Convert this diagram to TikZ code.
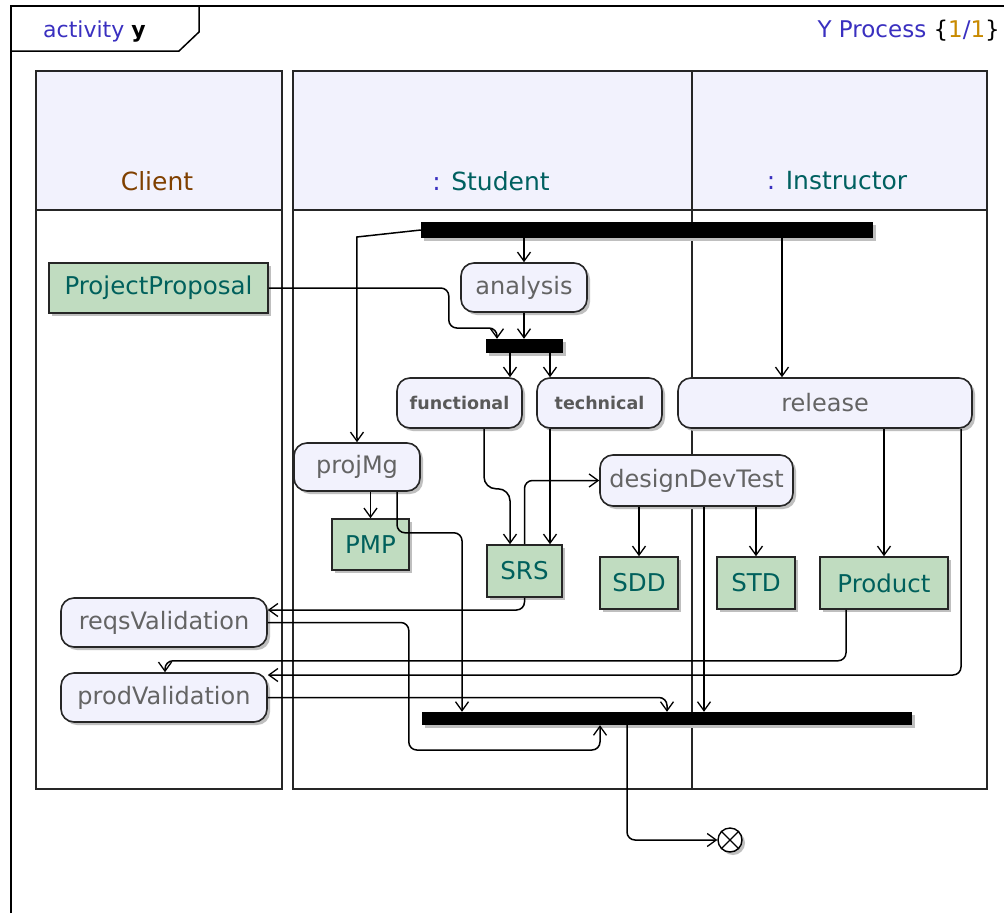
\documentclass[tikz,border=0pt]{standalone}
\usepackage{fontspec}
\setmainfont{DejaVu Sans}
\usetikzlibrary{arrows.meta,shadows,calc}

\definecolor{actfill}{HTML}{F2F2FD}
\definecolor{objfill}{HTML}{C0DCC0}
\definecolor{acttext}{HTML}{646464}
\definecolor{objtext}{HTML}{00605C}
\definecolor{titleblue}{HTML}{3A30C0}
\definecolor{clientbrown}{HTML}{804000}
\definecolor{laneteal}{HTML}{006060}
\definecolor{multgold}{HTML}{C88A00}

\begin{document}
\begin{tikzpicture}[x=1pt,y=-1pt,
  dshadow/.style={drop shadow={shadow xshift=3pt,shadow yshift=-3pt,fill=black!25,opacity=1}},
  actnode/.style={rectangle,rounded corners=13pt,draw=black!85,line width=1.6pt,fill=actfill,dshadow,
    text=acttext,font=\fontsize{24}{28}\selectfont,inner sep=0pt},
  smallact/.style={actnode,font=\bfseries\fontsize{17.5}{21}\selectfont,text=black!65},
  objnode/.style={rectangle,draw=black!85,line width=1.6pt,fill=objfill,dshadow,
    text=objtext,font=\fontsize{24.5}{28}\selectfont,inner sep=0pt},
  syncbar/.style={rectangle,fill=black,dshadow,inner sep=0pt},
  flowline/.style={draw=black,line width=1.5pt,rounded corners=8pt,
    -{Straight Barb[length=9pt,width=13pt,line width=1.3pt]}},
  laneline/.style={draw=black!85,line width=1.5pt},
  lanelabel/.style={font=\fontsize{25}{30}\selectfont,inner sep=0pt}
]
\useasboundingbox (0,0) rectangle (1004,913);
\fill[white] (0,0) rectangle (1004,913);

% diagram frame and its name tab
\draw[line width=1.5pt] (11,913) -- (11,6) -- (1004,6);
\draw[line width=1.5pt] (11,51) -- (179,51) -- (199,32) -- (199,6);
\node[anchor=base west,inner sep=0pt,font=\fontsize{22}{26}\selectfont] (frametitle) at (43,37)
  {\textcolor{titleblue}{activity} \textbf{y}};
\node[anchor=base east,inner sep=0pt,font=\fontsize{23}{26}\selectfont] (processname) at (1000,37)
  {\textcolor{titleblue}{Y Process} \{\textcolor{multgold}{1}\textcolor{titleblue}{/}\textcolor{multgold}{1}\}};

% swimlanes
\fill[actfill] (36,71) rectangle (282,210);
\fill[actfill] (293,71) rectangle (987,210);
\draw[laneline] (36,71) rectangle (282,789);
\draw[laneline] (36,210) -- (282,210);
\draw[laneline] (293,71) rectangle (987,789);
\draw[laneline] (293,210) -- (987,210);
\draw[laneline] (692,71) -- (692,789);
\node[lanelabel,text=clientbrown] (client) at (157,181) {Client};
\node[lanelabel] (student) at (491,181) {\textcolor{titleblue}{:} \textcolor{laneteal}{Student}};
\node[lanelabel] (instructor) at (837,181) {\textcolor{titleblue}{:} \textcolor{laneteal}{Instructor}};

% synchronisation bars
\node[syncbar,minimum width=452pt,minimum height=16pt] (fork1) at (647,230) {};
\node[syncbar,minimum width=77pt,minimum height=14pt] (join2) at (524.5,346) {};
\node[syncbar,minimum width=490pt,minimum height=13pt] (join3) at (667,718.5) {};

% actions
\node[actnode,minimum width=126pt,minimum height=49pt] (analysis) at (524,287.5) {analysis};
\node[smallact,minimum width=125pt,minimum height=50pt] (functional) at (459.5,403) {functional};
\node[smallact,minimum width=125pt,minimum height=50pt] (technical) at (599.5,403) {technical};
\node[actnode,minimum width=294pt,minimum height=50pt] (release) at (825,403) {release};
\node[actnode,minimum width=126pt,minimum height=48pt] (projMg) at (357,467) {projMg};
\node[actnode,minimum width=193pt,minimum height=51pt] (dDT) at (696.5,480.5) {designDevTest};
\node[actnode,minimum width=206pt,minimum height=49pt] (reqsV) at (164,622.5) {reqsValidation};
\node[actnode,minimum width=206pt,minimum height=49pt] (prodV) at (164,697.5) {prodValidation};

% object nodes
\node[objnode,minimum width=219pt,minimum height=50pt] (proposal) at (158.5,288) {ProjectProposal};
\node[objnode,minimum width=77pt,minimum height=51pt] (PMP) at (370.5,544.5) {PMP};
\node[objnode,minimum width=75pt,minimum height=52pt] (SRS) at (524.5,571) {SRS};
\node[objnode,minimum width=78pt,minimum height=52pt] (SDD) at (639,583) {SDD};
\node[objnode,minimum width=78pt,minimum height=52pt] (STD) at (756,583) {STD};
\node[objnode,minimum width=128pt,minimum height=52pt] (Product) at (884,583) {Product};

% final node
\node[circle,draw=black,line width=1.4pt,fill=white,minimum size=24pt,inner sep=0pt,dshadow] (final) at (730,840) {};
\draw[line width=1.2pt] (final.north west) -- (final.south east) (final.north east) -- (final.south west);

% control and object flows
\draw[flowline,sharp corners] (fork1.west) -- ++(-64,7) -- (projMg.north);
\draw[flowline] (analysis.north |- fork1.south) -- (analysis.north);
\draw[flowline] ([xshift=135]fork1.south) -- ([xshift=-43]release.north);
\draw[flowline] (proposal.east) -- ++(180,0) -- ++(0,40) -| ([xshift=-27.5]join2.north);
\draw[flowline] (analysis.south) -- (analysis.south |- join2.north);
\draw[flowline] ([xshift=-14.5]join2.south) -- ([xshift=50.5]functional.north);
\draw[flowline] ([xshift=25.5]join2.south) -- ([xshift=-49.5]technical.north);
\draw[flowline,rounded corners=12pt] ([xshift=24.5]functional.south) -- ++(0,60) -| ([xshift=-14.5]SRS.north);
\draw[flowline] ([xshift=-49.5]technical.south) -- ([xshift=25.5]SRS.north);
\draw[flowline] (SRS.north) |- (dDT.west);
\draw[flowline] (PMP.north |- projMg.south) -- (PMP.north);
\draw[flowline] ([xshift=40]projMg.south) -- ++(0,41) -| ([xshift=-205]join3.north);
\draw[flowline] (SDD.north |- dDT.south) -- (SDD.north);
\draw[flowline] (STD.north |- dDT.south) -- (STD.north);
\draw[flowline] ([xshift=7.5]dDT.south) -- ([xshift=37]join3.north);
\draw[flowline] (Product.north |- release.south) -- (Product.north);
\draw[flowline] ([xshift=136]release.south) |- ([yshift=22.5]prodV.east);
\draw[flowline] (SRS.south) |- ([yshift=12.5]reqsV.east);
\draw[flowline] (reqsV.east) -- ++(141,0) -- ++(0,127.5) -| ([xshift=-67]join3.south);
\draw[flowline] ([xshift=-38]Product.south) -- ++(0,51) -| ([xshift=1]prodV.north);
\draw[flowline] (prodV.east) -| (join3.north);
\draw[flowline] ([xshift=-40]join3.south) |- (final.west);
\end{tikzpicture}
\end{document}
